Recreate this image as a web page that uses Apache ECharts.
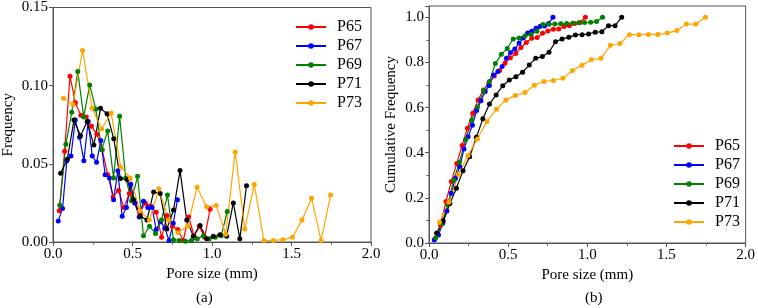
<!DOCTYPE html>
<html><head><meta charset="utf-8">
<script src="https://cdn.jsdelivr.net/npm/echarts@6/dist/echarts.min.js"></script>
<style>html,body{margin:0;padding:0;background:#fff}#c{width:758px;height:308px}</style>
</head><body><div id="c"></div>
<script>
const names = ['P65','P67','P69','P71','P73'];
const colors = ['#ff0000','#0000ff','#008000','#000000','#ffa500'];
const xTicks = [0, 0.5, 1.0, 1.5, 2.0];

const xP65 = [0.039,0.073,0.107,0.141,0.175,0.209,0.242,0.276,0.310,0.344,0.378,0.412,0.446,0.480,0.514,0.548,0.581,0.615,0.649,0.683,0.717,0.751,0.785,0.819,0.853,0.887,0.920,0.954,0.988];
const fP65 = [0.020,0.058,0.106,0.089,0.081,0.080,0.074,0.069,0.059,0.043,0.029,0.033,0.022,0.031,0.025,0.019,0.025,0.023,0.019,0.003,0.017,0.010,0.008,0.001,0.016,0.004,0.010,0.003,0.021];
const cP65 = [0.020,0.078,0.184,0.272,0.352,0.432,0.508,0.575,0.634,0.678,0.708,0.740,0.764,0.796,0.821,0.840,0.866,0.888,0.907,0.910,0.929,0.939,0.947,0.948,0.959,0.963,0.973,0.977,1.000];

const xP67 = [0.033,0.060,0.087,0.113,0.140,0.167,0.194,0.221,0.247,0.274,0.301,0.328,0.355,0.381,0.408,0.435,0.462,0.489,0.515,0.542,0.569,0.596,0.623,0.649,0.676,0.703,0.730,0.756,0.783];
const fP67 = [0.0135,0.0215,0.052,0.055,0.078,0.067,0.052,0.077,0.055,0.051,0.065,0.043,0.041,0.027,0.0455,0.0165,0.022,0.037,0.025,0.016,0.026,0.022,0.022,0.008,0.013,0.009,0.001,0.012,0.027];
const cP67 = [0.0135,0.035,0.087,0.142,0.220,0.287,0.339,0.416,0.471,0.522,0.587,0.630,0.671,0.698,0.744,0.760,0.782,0.819,0.844,0.860,0.886,0.908,0.930,0.938,0.951,0.960,0.961,0.973,1.000];

const xP69 = [0.043,0.081,0.118,0.156,0.193,0.231,0.269,0.306,0.344,0.381,0.419,0.457,0.494,0.532,0.569,0.607,0.645,0.682,0.720,0.758,0.795,0.833,0.870,0.908,0.946,0.983,1.021,1.058,1.096];
const fP69 = [0.0235,0.0625,0.083,0.109,0.080,0.1005,0.085,0.059,0.071,0.041,0.0805,0.041,0.0264,0.042,0.004,0.010,0.0055,0.014,0.030,0.0015,0.001,0.0005,0.001,0.002,0.004,0.002,0.003,0.004,0.0195];
const cP69 = [0.0235,0.086,0.169,0.278,0.358,0.459,0.544,0.603,0.674,0.715,0.795,0.836,0.862,0.904,0.908,0.918,0.924,0.938,0.968,0.969,0.970,0.971,0.972,0.974,0.976,0.977,0.978,0.981,1.000];

const xP71 = [0.048,0.090,0.132,0.173,0.215,0.257,0.299,0.340,0.382,0.424,0.466,0.507,0.549,0.591,0.633,0.674,0.716,0.758,0.799,0.841,0.883,0.925,0.967,1.008,1.050,1.092,1.134,1.175,1.217];
const fP71 = [0.044,0.053,0.078,0.068,0.077,0.062,0.0855,0.082,0.066,0.0406,0.040,0.027,0.0166,0.014,0.032,0.031,0.0083,0.0204,0.0457,0.014,0.0036,0.0106,0.002,0.0036,0.0047,0.0036,0.025,0.002,0.036];
const cP71 = [0.044,0.097,0.175,0.243,0.320,0.382,0.468,0.550,0.616,0.656,0.697,0.722,0.737,0.756,0.789,0.818,0.826,0.845,0.892,0.904,0.911,0.922,0.923,0.926,0.934,0.936,0.963,0.963,1.000];

const xP73 = [0.066,0.126,0.186,0.246,0.306,0.366,0.426,0.486,0.546,0.606,0.666,0.726,0.786,0.846,0.906,0.966,1.026,1.086,1.146,1.206,1.266,1.326,1.386,1.446,1.506,1.566,1.626,1.686,1.746];
const fP73 = [0.092,0.088,0.1225,0.0857,0.0723,0.0825,0.048,0.041,0.020,0.014,0.034,0.014,0.006,0.010,0.035,0.0225,0.0234,0.005,0.0576,0.0083,0.0368,0.001,0.001,0.0015,0.003,0.014,0.028,0.001,0.030];
const cP73 = [0.092,0.180,0.303,0.388,0.461,0.538,0.593,0.634,0.653,0.667,0.699,0.716,0.720,0.730,0.764,0.788,0.812,0.818,0.876,0.884,0.923,0.923,0.924,0.924,0.930,0.942,0.970,0.970,1.000];

const xs = [xP65,xP67,xP69,xP71,xP73];
const fs = [fP65,fP67,fP69,fP71,fP73];
const cs = [cP65,cP67,cP69,cP71,cP73];

const FONT = '"Liberation Serif", "Times New Roman", serif';
const axisCommon = {
  axisLine:{show:true,onZero:false,lineStyle:{color:'#555',width:1}},
  axisTick:{show:true,inside:false,length:4,lineStyle:{color:'#555'}},
  minorTick:{show:true,splitNumber:2,length:2.5,lineStyle:{color:'#555'}},
  splitLine:{show:false},
  axisLabel:{color:'#000',fontFamily:FONT,fontSize:15,margin:5},
  nameTextStyle:{color:'#000',fontFamily:FONT,fontSize:15}
};
function xAx(gi){
  return Object.assign({}, axisCommon, {
    type:'value', gridIndex:gi, min:0, max:2.0, interval:0.5,
    name:'Pore size (mm)', nameLocation:'middle', nameGap:23,
    axisLabel:Object.assign({}, axisCommon.axisLabel, {formatter:v=>v.toFixed(1)})
  });
}
const series = [];
names.forEach((n,i)=>{
  series.push({name:n,type:'line',xAxisIndex:0,yAxisIndex:0,symbol:'circle',symbolSize:5,
    color:colors[i],lineStyle:{width:1.2},animation:false,
    data:xs[i].map((x,j)=>[x,fs[i][j]])});
});
names.forEach((n,i)=>{
  series.push({name:n,type:'line',xAxisIndex:1,yAxisIndex:1,symbol:'circle',symbolSize:5,
    color:colors[i],lineStyle:{width:1.2},animation:false,
    data:xs[i].map((x,j)=>[x,cs[i][j]])});
});
const legendCommon = {orient:'vertical',itemWidth:30,itemHeight:7,
  textStyle:{fontFamily:FONT,fontSize:16,color:'#000',padding:[0,0,0,6]},data:names};

const chart = echarts.init(document.getElementById('c'));
chart.setOption({
  animation:false,
  backgroundColor:'#fff',
  textStyle:{fontFamily:FONT},
  grid:[
    {left:49,top:7,width:322,height:235,show:true,borderColor:'#555',borderWidth:1},
    {left:429,top:6,width:319,height:237,show:true,borderColor:'#555',borderWidth:1}
  ],
  xAxis:[xAx(0), xAx(1)],
  yAxis:[
    Object.assign({}, axisCommon, {type:'value',gridIndex:0,min:0,max:0.15,interval:0.05,
      name:'Frequency',nameLocation:'middle',nameGap:37,
      minorTick:{show:false},
      axisLabel:Object.assign({}, axisCommon.axisLabel,{formatter:v=>v.toFixed(2)})}),
    Object.assign({}, axisCommon, {type:'value',gridIndex:1,min:0,max:1.05,interval:0.2,
      name:'Cumulative Frequency',nameLocation:'middle',nameGap:30,
      axisLabel:Object.assign({}, axisCommon.axisLabel,{formatter:v=>{
        const r=Math.round(v*10); return (Math.abs(v*10-r)<1e-6 && r%2===0)? v.toFixed(1):'';}})})
  ],
  legend:[
    Object.assign({}, legendCommon, {left:290,top:14,itemGap:3}),
    Object.assign({}, legendCommon, {left:668,top:133,itemGap:3})
  ],
  graphic:[
    {type:'text',left:196,top:291,style:{text:'(a)',font:'15px "Liberation Serif"',fill:'#000'}},
    {type:'text',left:585,top:291,style:{text:'(b)',font:'15px "Liberation Serif"',fill:'#000'}}
  ],
  series:series
});
</script></body></html>
